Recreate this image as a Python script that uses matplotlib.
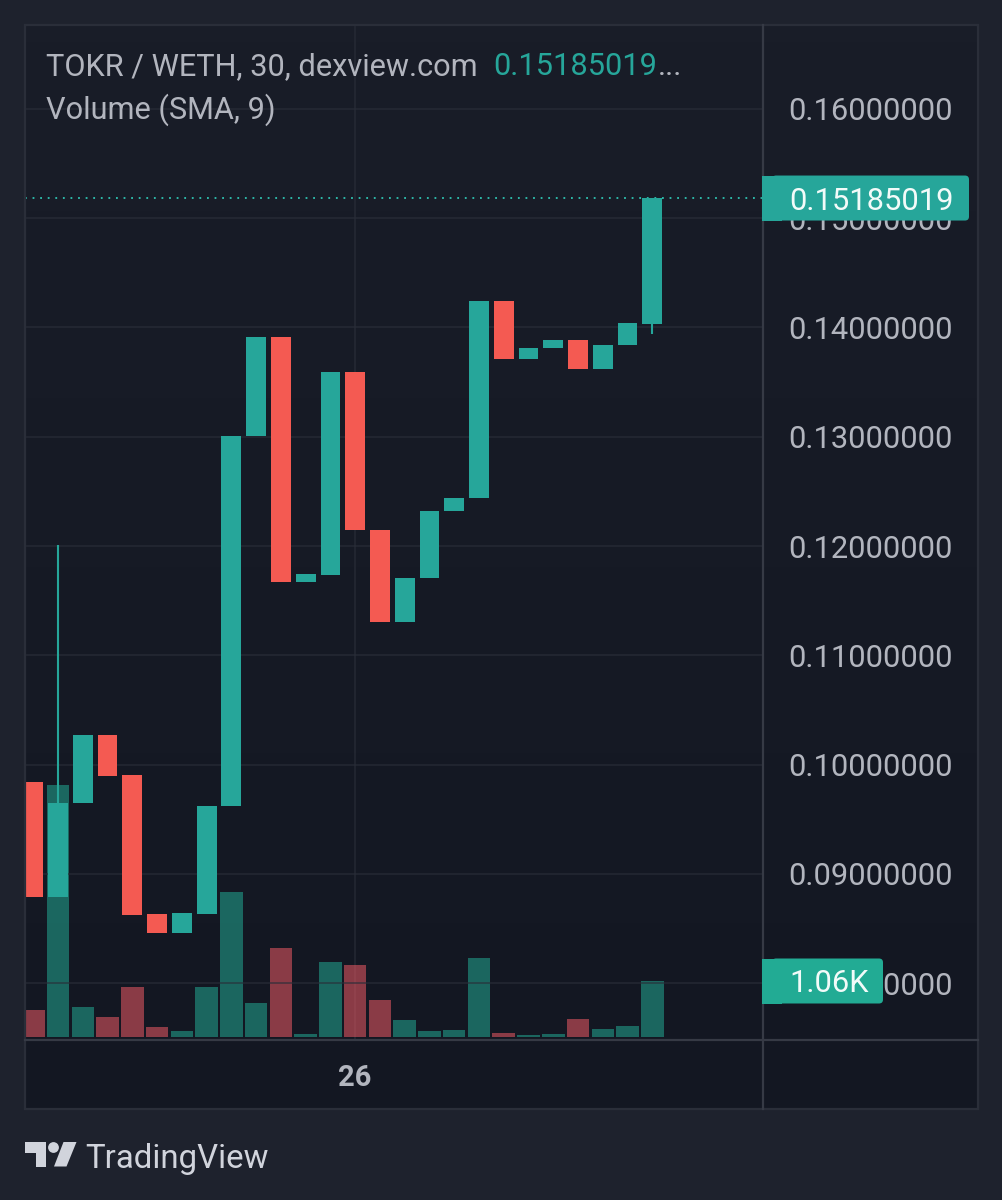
"""TradingView style candle chart for TOKR / WETH with a volume overlay."""

import matplotlib
matplotlib.use("Agg")
import matplotlib.pyplot as plt
from matplotlib.patches import Circle, FancyBboxPatch, Polygon, Rectangle
import numpy as np

# Chart data
opens = [0.0984, 0.08787, 0.09648, 0.1027, 0.09904, 0.08631, 0.08458, 0.08631, 0.0962, 0.13007,
         0.13913, 0.1167, 0.11735, 0.13593, 0.12146, 0.11304, 0.11707, 0.1232, 0.12439, 0.14243,
         0.13712, 0.13812, 0.13886, 0.1362, 0.1384, 0.14031]
closes = [0.08787, 0.09648, 0.1027, 0.09895, 0.08622, 0.08458, 0.08641, 0.0962, 0.13007, 0.13913,
          0.1167, 0.11744, 0.13593, 0.12146, 0.11304, 0.11707, 0.1232, 0.12439, 0.14243, 0.13712,
          0.13812, 0.13886, 0.1362, 0.1384, 0.14041, 0.15185019]
wick_index = [1, 25]
wick_from = [0.09648, 0.14031]
wick_to = [0.12009, 0.1394]
volumes = [510, 4770, 570, 380, 950, 190, 115, 950, 2745, 640, 1685, 55, 1420, 1365, 700, 320,
           115, 130, 1495, 75, 40, 60, 340, 160, 200, 1060]
price_ticks = [0.16, 0.15, 0.14, 0.13, 0.12, 0.11, 0.10, 0.09, 0.08]
time_ticks = [13]
time_labels = ["26"]
last_price = 0.15185019
last_price_label = "0.15185019"
last_volume_label = "1.06K"

W, H = 1003, 1200
UP = "#26a69a"
DOWN = "#f45a52"
VOL_UP = "#22ab94"
VOL_DOWN = "#f05a66"
BADGE_VOL = "#22ab94"
PAGE = "#1e222d"
LINE = "#2a2e39"
TEXT = "#b2b5be"
LOGO = "#d1d4dc"

plt.rcParams["font.family"] = ["Roboto", "DejaVu Sans"]


def pixel_axes(fig, left, top, right, bottom):
    """Add axes given by pixel edges, measured from the top left of the figure."""
    return fig.add_axes([left / W, 1 - bottom / H, (right - left) / W, (bottom - top) / H])


fig = plt.figure(figsize=(W / 100, H / 100), dpi=100, facecolor=PAGE)

# Pane background, a faint vertical gradient
bg = pixel_axes(fig, 25, 25, 978, 1109)
bg.imshow(np.linspace(0, 1, 64).reshape(-1, 1), aspect="auto", extent=(0, 1, 0, 1), origin="upper",
          cmap=matplotlib.colors.LinearSegmentedColormap.from_list("pane", ["#191d28", "#131722"]))
bg.axis("off")

ax_vol = pixel_axes(fig, 25, 25, 763, 1039)
ax = ax_vol.twinx()
ax.set_zorder(ax_vol.get_zorder() + 1)
ax.patch.set_visible(False)
ax_vol.patch.set_visible(False)

x = np.arange(len(opens))
o = np.array(opens)
c = np.array(closes)
up = c >= o

# Volume sits behind the candles
vol_per_px = 1060 / 56
ax_vol.bar(x, volumes, width=0.91, color=[VOL_UP if u else VOL_DOWN for u in up], alpha=0.54, linewidth=0)
ax_vol.set_ylim(-2 * vol_per_px, (1037 - 25) * vol_per_px)
ax_vol.set_yticks([])

ax.vlines(wick_index, wick_from, wick_to, color=UP, linewidth=1.5, zorder=3)
ax.bar(x, np.abs(c - o), bottom=np.minimum(o, c), width=0.8,
       color=[UP if u else DOWN for u in up], linewidth=0, zorder=4)
ax.axhline(last_price, color="#2fc4b2", linewidth=1.3, linestyle=(0, (1, 3.2)), zorder=2)

# The twin shares x, so the time axis is drawn by the volume axes
ax_vol.set_xlim(-0.335, 29.47)
ax_vol.set_xticks(time_ticks)
ax_vol.set_xticklabels(time_labels, fontweight="bold")
ax_vol.tick_params(axis="x", length=0, pad=18, labelsize=21, labelcolor=TEXT)
ax_vol.grid(True, axis="x", color=LINE, linewidth=1.2, alpha=0.7)
ax_vol.set_axisbelow(True)

ax.set_ylim(0.16 - 930 / 10925, 0.16 + 84 / 10925)
ax.set_yticks(price_ticks)
ax.set_yticklabels([f"{t:.8f}" for t in price_ticks])
ax.tick_params(axis="y", length=0, pad=18, labelsize=22.25, labelcolor=TEXT, right=False,
               labelright=True, labelleft=False, left=False)
ax.grid(True, axis="y", color=LINE, linewidth=1.2, alpha=0.7, zorder=0)
ax.set_axisbelow(True)
for axis in (ax, ax_vol):
    for spine in axis.spines.values():
        spine.set_visible(False)

# Frame, badges, legend and logo live on a pixel overlay
fig.canvas.draw()
price_y = H - ax.transData.transform((0, last_price))[1]
vol_y = H - ax_vol.transData.transform((0, volumes[-1]))[1]

over = fig.add_axes([0, 0, 1, 1], zorder=10)
over.set_xlim(0, W)
over.set_ylim(H, 0)
over.axis("off")

over.add_patch(Rectangle((25, 25), 953, 1084, fill=False, edgecolor=LINE, linewidth=1.6))
over.plot([25, 978], [1039.5, 1039.5], color="#363a45", linewidth=1.6)
over.plot([763, 763], [25, 1109], color="#363a45", linewidth=1.6)


def badge(left, right, center, color, label):
    """Draw a value badge, square on the left and rounded on the right."""
    top = center - 22.5
    over.add_patch(FancyBboxPatch((left + 10, top), right - left - 10, 45,
                                  boxstyle="round,pad=0,rounding_size=4",
                                  facecolor=color, linewidth=0, zorder=5))
    over.add_patch(Rectangle((left, top), 20, 45, facecolor=color, linewidth=0, zorder=5))
    over.text(789, center + 3, label, color="#f2fbf9", fontsize=22.25, va="center", ha="left", zorder=6)


badge(762, 969, price_y, UP, last_price_label)
badge(762, 883, vol_y, BADGE_VOL, last_volume_label)

over.text(46.5, 75, "TOKR / WETH, 30, dexview.com", color=TEXT, fontsize=22.15, va="baseline")
over.text(493.5, 75, last_price_label, color=UP, fontsize=22.15, va="baseline")
over.text(658, 75, "...", color=TEXT, fontsize=22.15, va="baseline")
over.text(46.5, 119, "Volume (SMA, 9)", color=TEXT, fontsize=22.15, va="baseline")

# TradingView logo
over.add_patch(Polygon([(25, 1142), (46, 1142), (46, 1166.5), (36, 1166.5), (36, 1152.5), (25, 1152.5)],
                       facecolor=LOGO, linewidth=0))
over.add_patch(Circle((53.5, 1147.5), 5.4, facecolor=LOGO, linewidth=0))
over.add_patch(Polygon([(63.5, 1142), (76.5, 1142), (66.5, 1166.5), (54, 1166.5)], facecolor=LOGO, linewidth=0))
over.text(85.5, 1168, "TradingView", color=LOGO, fontsize=23.8, va="baseline")

fig.savefig("out.png", dpi=100, facecolor=PAGE)
plt.close(fig)
